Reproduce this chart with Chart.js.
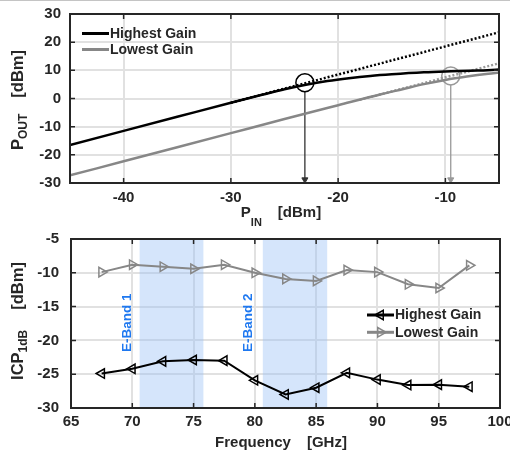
<!DOCTYPE html>
<html>
<head>
<meta charset="utf-8">
<script src="https://cdn.jsdelivr.net/npm/chart.js@4/dist/chart.umd.min.js"></script>
<style>
  html, body { margin: 0; padding: 0; background: #fff; }
  #wrap { position: relative; width: 510px; height: 451px; overflow: hidden; }
  #wrap canvas { position: absolute; left: 0; }
  #top { top: 0; }
  #bot { top: 226px; }
  #rule { position: absolute; left: 0; top: 0; width: 510px; height: 1px; background: #c4c4c4; }
</style>
</head>
<body>
<div id="wrap">
  <canvas id="top" width="510" height="240"></canvas>
  <canvas id="bot" width="510" height="225"></canvas>
  <div id="rule"></div>
</div>
<script>
// ---- top panel: Pout vs Pin ----
const pinTicks  = [-40, -30, -20, -10];
const poutTicks = [-30, -20, -10, 0, 10, 20, 30];
const pinHigh  = [-45, -40, -35, -30, -27, -25, -23, -21, -19, -17, -15, -12, -10, -7, -5];
const poutHigh = [-16.5, -11.5, -6.5, -1.5, 1.4, 3.3, 4.9, 6.2, 7.2, 8.0, 8.6, 9.3, 9.6, 9.9, 10.3];
const pinLow   = [-45, -40, -35, -30, -25, -20, -16, -14, -12, -10, -8, -6, -5];
const poutLow  = [-27.3, -22.3, -17.3, -12.3, -7.3, -2.4, 1.5, 3.3, 5.1, 6.6, 7.8, 8.8, 9.2];
// linear extrapolations (dotted)
const extHighX = [-30, -5];
const extHighY = [-1.5, 23.5];
const extLowX  = [-18, -5];
const extLowY  = [-0.5, 12.5];
// P1dB markers and arrows
const p1dbHigh = { x: -23.1, y: 5.6 };
const p1dbLow  = { x: -9.5, y: 8.0 };
const arrowHighY = [2.4, -28.8];
const arrowLowY  = [5.0, -28.8];

// ---- bottom panel: ICP1dB vs frequency ----
const freqTicks = [65, 70, 75, 80, 85, 90, 95, 100];
const icpTicks  = [-30, -25, -20, -15, -10, -5];
const freq    = [67.5, 70, 72.5, 75, 77.5, 80, 82.5, 85, 87.5, 90, 92.5, 95, 97.5];
const icpHigh = [-24.9, -24.2, -23.1, -22.9, -23.0, -25.9, -28.0, -27.0, -24.8, -25.8, -26.6, -26.55, -26.85];
const icpLow  = [-9.9, -8.8, -9.1, -9.4, -8.8, -10.0, -10.9, -11.2, -9.6, -9.9, -11.7, -12.25, -8.9];
const bands      = [[70.6, 75.8], [80.65, 85.9]];
const bandLabels = ['E-Band 1', 'E-Band 2'];
const bandLabelX = [69.6, 79.45];
const bandLabelY = -17.4;

const FONT = '"Liberation Sans", Arial, Helvetica, sans-serif';
const INK = '#262626';
const GRID = '#e1e1e1';
const GRAY = '#878787';

function pts(xs, ys) {
  return xs.map((x, i) => ({ x: x, y: ys[i] }));
}

function tri(ctx, x, y, r, deg) {
  let a = deg * Math.PI / 180;
  ctx.beginPath();
  for (let k = 0; k < 3; k++) {
    const px = x + Math.sin(a) * r, py = y - Math.cos(a) * r;
    if (k) ctx.lineTo(px, py); else ctx.moveTo(px, py);
    a += 2 * Math.PI / 3;
  }
  ctx.closePath();
}

// axis title with subscript, parts = [{t, sub, gap}]
function drawTitle(ctx, parts, cx, cy, vertical, subDrop, size, subSize) {
  ctx.save();
  ctx.translate(cx, cy);
  if (vertical) ctx.rotate(-Math.PI / 2);
  ctx.fillStyle = INK;
  ctx.textBaseline = 'middle';
  ctx.textAlign = 'left';
  const fnt = p => 'bold ' + (p.sub ? subSize : size) + 'px ' + FONT;
  let w = 0;
  parts.forEach(p => { ctx.font = fnt(p); w += (p.gap || 0) + ctx.measureText(p.t).width; });
  let x = -w / 2;
  parts.forEach(p => {
    ctx.font = fnt(p);
    x += p.gap || 0;
    ctx.fillText(p.t, x, p.sub ? subDrop : 0);
    x += ctx.measureText(p.t).width;
  });
  ctx.restore();
}

// box + inward ticks + legend + titles + bands
function decor(cfg) {
  return {
    id: 'decor',
    beforeDatasetsDraw(chart) {
      if (!cfg.bands) return;
      const { ctx, chartArea: a, scales: { x, y } } = chart;
      ctx.save();
      ctx.fillStyle = 'rgba(150,190,245,0.4)';
      cfg.bands.forEach(b => {
        const x0 = x.getPixelForValue(b[0]), x1 = x.getPixelForValue(b[1]);
        ctx.fillRect(x0, a.top, x1 - x0, a.bottom - a.top);
      });
      ctx.restore();
    },
    afterDraw(chart) {
      const { ctx, chartArea: a, scales: { x, y } } = chart;
      ctx.save();
      // inward tick marks on all four sides
      ctx.strokeStyle = INK;
      ctx.lineWidth = 1.5;
      const L = 5;
      ctx.beginPath();
      x.ticks.forEach(t => {
        const p = x.getPixelForValue(t.value);
        ctx.moveTo(p, a.bottom); ctx.lineTo(p, a.bottom - L);
        ctx.moveTo(p, a.top); ctx.lineTo(p, a.top + L);
      });
      y.ticks.forEach(t => {
        const p = y.getPixelForValue(t.value);
        ctx.moveTo(a.left, p); ctx.lineTo(a.left + L, p);
        ctx.moveTo(a.right, p); ctx.lineTo(a.right - L, p);
      });
      ctx.stroke();
      ctx.lineWidth = 2;
      ctx.strokeRect(a.left, a.top, a.right - a.left, a.bottom - a.top);

      // band labels
      if (cfg.bandLabels) {
        ctx.fillStyle = '#1e78f0';
        ctx.font = 'bold 13.5px ' + FONT;
        ctx.textAlign = 'center';
        ctx.textBaseline = 'middle';
        cfg.bandLabels.forEach((s, i) => {
          ctx.save();
          ctx.translate(x.getPixelForValue(cfg.bandLabelX[i]), y.getPixelForValue(cfg.bandLabelY));
          ctx.rotate(-Math.PI / 2);
          ctx.fillText(s, 0, 0);
          ctx.restore();
        });
      }

      // legend
      const lg = cfg.legend;
      const items = chart.data.datasets.filter(d => d.inLegend);
      items.forEach((d, i) => {
        const yy = lg.y + i * lg.dy;
        ctx.strokeStyle = d.borderColor;
        ctx.lineWidth = 3;
        ctx.beginPath();
        ctx.moveTo(lg.x, yy); ctx.lineTo(lg.x + lg.len, yy);
        ctx.stroke();
        if (d.pointRadius) {
          ctx.lineWidth = 1.5;
          tri(ctx, lg.x + lg.len / 2, yy, d.pointRadius, d.pointRotation);
          ctx.stroke();
        }
        ctx.fillStyle = INK;
        ctx.font = 'bold 14px ' + FONT;
        ctx.textAlign = 'left';
        ctx.textBaseline = 'middle';
        ctx.fillText(d.label, lg.x + lg.len + 1, yy + 0.5);
      });
      ctx.restore();

      drawTitle(ctx, cfg.xTitle, cfg.xTitlePos[0], cfg.xTitlePos[1], false, cfg.xSubDrop, 15, 11);
      drawTitle(ctx, cfg.yTitle, cfg.yTitlePos[0], cfg.yTitlePos[1], true, cfg.ySubDrop, 16.5, 12);
    }
  };
}

function axes(xr, yr, xTicks, yTicks, yWidth, xHeight, xPad, yPad) {
  const tickFont = { family: FONT, size: 15, weight: 'bold' };
  return {
    x: {
      type: 'linear', min: xr[0], max: xr[1],
      afterBuildTicks(s) { s.ticks = xTicks.map(v => ({ value: v })); },
      ticks: { font: tickFont, color: INK, padding: xPad, maxRotation: 0 },
      grid: { color: GRID, lineWidth: 2, drawTicks: false },
      border: { display: false },
      afterFit(s) { s.height = xHeight; s.paddingLeft = 0; s.paddingRight = 0; }
    },
    y: {
      min: yr[0], max: yr[1],
      afterBuildTicks(s) { s.ticks = yTicks.map(v => ({ value: v })); },
      ticks: { font: tickFont, color: INK, padding: yPad },
      grid: { color: GRID, lineWidth: 2, drawTicks: false },
      border: { display: false },
      afterFit(s) { s.width = yWidth; s.paddingTop = 0; s.paddingBottom = 0; }
    }
  };
}

const common = {
  responsive: false,
  animation: false,
  devicePixelRatio: 1,
  plugins: { legend: { display: false }, tooltip: { enabled: false } }
};

new Chart(document.getElementById('top'), {
  type: 'line',
  data: {
    datasets: [
      { label: 'Highest Gain', inLegend: true, data: pts(pinHigh, poutHigh), borderColor: '#000', borderWidth: 2.5, pointRadius: 0, cubicInterpolationMode: 'monotone' },
      { label: 'Lowest Gain', inLegend: true, data: pts(pinLow, poutLow), borderColor: GRAY, borderWidth: 2.5, pointRadius: 0, cubicInterpolationMode: 'monotone' },
      { label: 'ext high', data: pts(extHighX, extHighY), borderColor: '#000', borderWidth: 2.5, borderDash: [2, 2], pointRadius: 0 },
      { label: 'ext low', data: pts(extLowX, extLowY), borderColor: '#9a9a9a', borderWidth: 2.5, borderDash: [2, 2], pointRadius: 0 },
      { label: 'P1dB high', data: [p1dbHigh], showLine: false, pointRadius: 9, pointBorderWidth: 1.5, pointBorderColor: '#000', pointBackgroundColor: 'rgba(0,0,0,0)' },
      { label: 'P1dB low', data: [p1dbLow], showLine: false, pointRadius: 9, pointBorderWidth: 1.5, pointBorderColor: '#999', pointBackgroundColor: 'rgba(0,0,0,0)' },
      { label: 'arrow high', data: pts([p1dbHigh.x, p1dbHigh.x], arrowHighY), borderColor: '#333', borderWidth: 1.3,
        pointRadius: [0, 3.5], pointStyle: 'triangle', pointRotation: 180, pointBackgroundColor: '#333', pointBorderColor: '#333', pointBorderWidth: 1 },
      { label: 'arrow low', data: pts([p1dbLow.x, p1dbLow.x], arrowLowY), borderColor: '#999', borderWidth: 1.3,
        pointRadius: [0, 3.5], pointStyle: 'triangle', pointRotation: 180, pointBackgroundColor: '#999', pointBorderColor: '#999', pointBorderWidth: 1 }
    ]
  },
  options: Object.assign({}, common, {
    layout: { padding: { top: 14, right: 11, left: 0, bottom: 0 } },
    scales: axes([-45, -5], [-30, 30], pinTicks, poutTicks, 70, 57, 6, 9)
  }),
  plugins: [decor({
    legend: { x: 82, y: 33.5, dy: 16, len: 27 },
    xTitle: [{ t: 'P' }, { t: 'IN', sub: true }, { t: '[dBm]', gap: 16 }],
    xTitlePos: [281, 213], xSubDrop: 10,
    yTitle: [{ t: 'P' }, { t: 'OUT', sub: true }, { t: '[dBm]', gap: 16 }],
    yTitlePos: [18, 100], ySubDrop: 6
  })]
});

new Chart(document.getElementById('bot'), {
  type: 'line',
  data: {
    datasets: [
      { label: 'Highest Gain', inLegend: true, data: pts(freq, icpHigh), borderColor: '#000', borderWidth: 2,
        pointStyle: 'triangle', pointRotation: -90, pointRadius: 5.5, pointBorderWidth: 1.5, pointBorderColor: '#000', pointBackgroundColor: 'rgba(0,0,0,0)' },
      { label: 'Lowest Gain', inLegend: true, data: pts(freq, icpLow), borderColor: GRAY, borderWidth: 2,
        pointStyle: 'triangle', pointRotation: 90, pointRadius: 5.5, pointBorderWidth: 1.5, pointBorderColor: GRAY, pointBackgroundColor: 'rgba(0,0,0,0)' }
    ]
  },
  options: Object.assign({}, common, {
    layout: { padding: { top: 13, right: 10, left: 0, bottom: 0 } },
    scales: axes([65, 100], [-30, -5], freqTicks, icpTicks, 71, 43, 5, 12)
  }),
  plugins: [decor({
    bands: bands, bandLabels: bandLabels, bandLabelX: bandLabelX, bandLabelY: bandLabelY,
    legend: { x: 367, y: 89, dy: 17.3, len: 27 },
    xTitle: [{ t: 'Frequency' }, { t: '[GHz]', gap: 16 }],
    xTitlePos: [281, 217], xSubDrop: 0,
    yTitle: [{ t: 'ICP' }, { t: '1dB', sub: true }, { t: '[dBm]', gap: 20 }],
    yTitlePos: [18, 95], ySubDrop: 6
  })]
});
</script>
</body>
</html>
